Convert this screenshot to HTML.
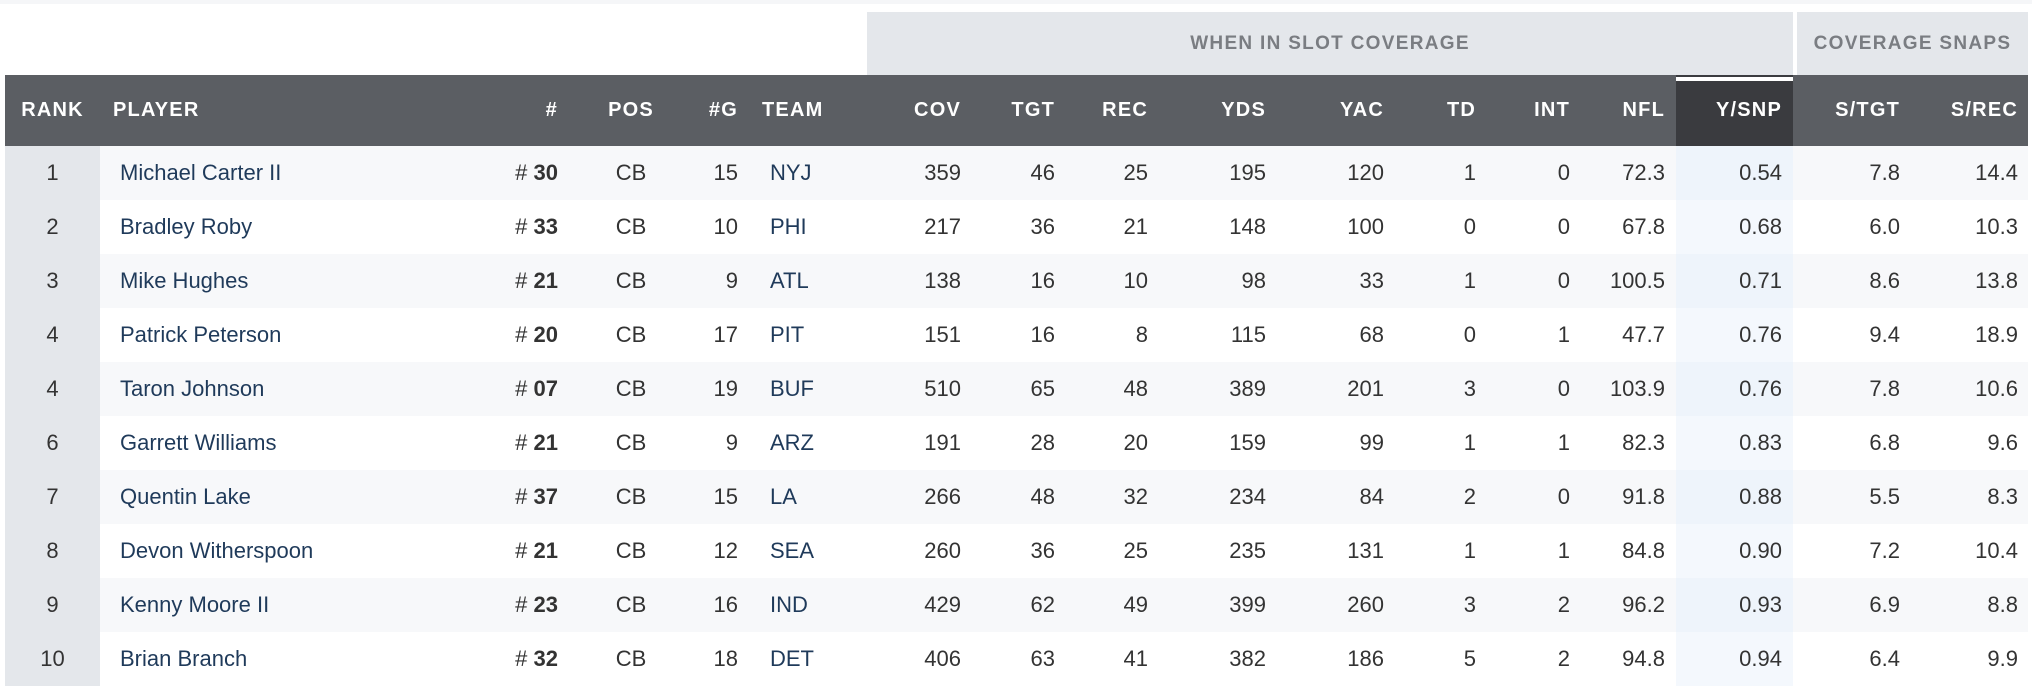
<!DOCTYPE html>
<html><head><meta charset="utf-8"><style>
body{margin:0;width:2032px;height:688px;background:#fff;overflow:hidden;font-family:"Liberation Sans",sans-serif;position:relative}
.top{position:absolute;left:0;top:0;width:2032px;height:4px;background:#f5f6f8}
.g{position:absolute;top:12px;height:63px;background:#e4e7eb;color:#7a7d82;font-weight:bold;font-size:19px;letter-spacing:1.3px;line-height:63px;text-align:center}
.hdr{position:absolute;left:5px;top:75px;width:2023px;height:71px;background:#5b5e63}
.row{position:absolute;left:5px;width:2023px;height:54px}
.c{position:absolute;top:0;white-space:nowrap}
.hdr .c{line-height:71px;color:#fff;font-weight:bold;font-size:20px;letter-spacing:1.2px}
.row .c{line-height:54px;color:#333;font-size:22px}
.r{text-align:right}
.ysnp{position:absolute;left:1671px;width:117px;top:0;height:100%}
</style></head><body>
<div class="top"></div>
<div class="g" style="left:867px;width:926px">WHEN IN SLOT COVERAGE</div>
<div class="g" style="left:1797px;width:231px">COVERAGE SNAPS</div>
<div class="hdr">
<div class="ysnp" style="background:#3a3b3f"><div style="height:4px;margin-top:2px;background:#fff"></div></div>
<div class="c" style="left:0;width:95px;text-align:center">RANK</div>
<div class="c" style="left:108px">PLAYER</div>
<div class="c r" style="right:1470px">#</div>
<div class="c" style="left:586px;width:80px;text-align:center">POS</div>
<div class="c r" style="right:1290px">#G</div>
<div class="c" style="left:757px">TEAM</div>
<div class="c r" style="right:1067px">COV</div>
<div class="c r" style="right:973px">TGT</div>
<div class="c r" style="right:880px">REC</div>
<div class="c r" style="right:762px">YDS</div>
<div class="c r" style="right:644px">YAC</div>
<div class="c r" style="right:552px">TD</div>
<div class="c r" style="right:458px">INT</div>
<div class="c r" style="right:363px">NFL</div>
<div class="c r" style="right:246px">Y/SNP</div>
<div class="c r" style="right:128px">S/TGT</div>
<div class="c r" style="right:10px">S/REC</div>
</div>
<div id="rows"></div>
<script>
var d=[["1","Michael Carter II","30","15","NYJ","359","46","25","195","120","1","0","72.3","0.54","7.8","14.4"],
["2","Bradley Roby","33","10","PHI","217","36","21","148","100","0","0","67.8","0.68","6.0","10.3"],
["3","Mike Hughes","21","9","ATL","138","16","10","98","33","1","0","100.5","0.71","8.6","13.8"],
["4","Patrick Peterson","20","17","PIT","151","16","8","115","68","0","1","47.7","0.76","9.4","18.9"],
["4","Taron Johnson","07","19","BUF","510","65","48","389","201","3","0","103.9","0.76","7.8","10.6"],
["6","Garrett Williams","21","9","ARZ","191","28","20","159","99","1","1","82.3","0.83","6.8","9.6"],
["7","Quentin Lake","37","15","LA","266","48","32","234","84","2","0","91.8","0.88","5.5","8.3"],
["8","Devon Witherspoon","21","12","SEA","260","36","25","235","131","1","1","84.8","0.90","7.2","10.4"],
["9","Kenny Moore II","23","16","IND","429","62","49","399","260","3","2","96.2","0.93","6.9","8.8"],
["10","Brian Branch","32","18","DET","406","63","41","382","186","5","2","94.8","0.94","6.4","9.9"]];
var rs=[1067,973,880,762,644,552,458,363,246,128,10],h="";
d.forEach(function(r,i){
h+='<div class="row" style="top:'+(146+i*54)+'px;background:'+(i%2?'#fff':'#f7f8fa')+'">';
h+='<div style="position:absolute;left:0;top:0;width:95px;height:54px;background:#e4e7eb"></div>';
h+='<div class="ysnp" style="background:'+(i%2?'#f4f8fd':'#eef4fb')+'"></div>';
h+='<div class="c" style="left:0;width:95px;text-align:center">'+r[0]+'</div>';
h+='<div class="c" style="left:115px;color:#1f3a5a">'+r[1]+'</div>';
h+='<div class="c r" style="right:1470px"># <b>'+r[2]+'</b></div>';
h+='<div class="c" style="left:586px;width:80px;text-align:center">CB</div>';
h+='<div class="c r" style="right:1290px">'+r[3]+'</div>';
h+='<div class="c" style="left:765px;color:#1f3a5a">'+r[4]+'</div>';
for(var k=0;k<11;k++)h+='<div class="c r" style="right:'+rs[k]+'px">'+r[5+k]+'</div>';
h+='</div>';});
document.getElementById("rows").innerHTML=h;
</script>
</body></html>
